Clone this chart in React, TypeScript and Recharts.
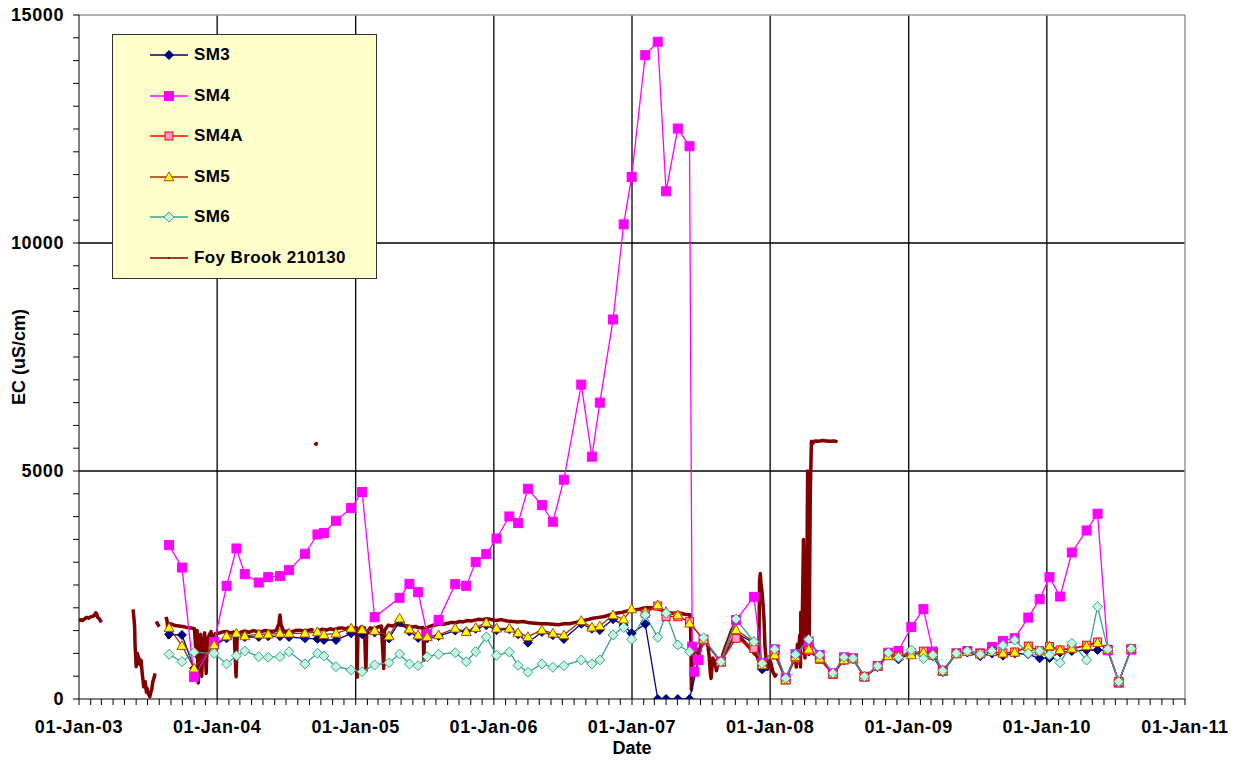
import React from 'react';
import { LineChart, Line, XAxis, YAxis, ReferenceLine, Legend } from 'recharts';

// sampling dates shared by the monitoring bores
const sampleDates = [
  '2003-08-27', '2003-09-30', '2003-11-01', '2003-12-24',
  '2004-01-26', '2004-02-21', '2004-03-14', '2004-04-20', '2004-05-15', '2004-06-15', '2004-07-09', '2004-08-20', '2004-09-22', '2004-10-09', '2004-11-10', '2004-12-20',
  '2005-01-18', '2005-02-20', '2005-03-30', '2005-04-27', '2005-05-23', '2005-06-15', '2005-07-09', '2005-08-08', '2005-09-21', '2005-10-20', '2005-11-14', '2005-12-12',
  '2006-01-08', '2006-02-11', '2006-03-06', '2006-04-01', '2006-05-08', '2006-06-06', '2006-07-05', '2006-08-20', '2006-09-17', '2006-10-08', '2006-11-12', '2006-12-10', '2006-12-31',
  '2007-02-05', '2007-03-10', '2007-04-01', '2007-05-02', '2007-06-02', '2007-06-09', '2007-06-15', '2007-06-26', '2007-07-09', '2007-08-24', '2007-10-03', '2007-11-19', '2007-12-11',
  '2008-01-13', '2008-02-11', '2008-03-08', '2008-04-12', '2008-05-11', '2008-06-15', '2008-07-14', '2008-08-07', '2008-09-06', '2008-10-11', '2008-11-08', '2008-12-05',
  '2009-01-08', '2009-02-09', '2009-03-06', '2009-04-01', '2009-05-07', '2009-06-05', '2009-07-09', '2009-08-09', '2009-09-07', '2009-10-08', '2009-11-13', '2009-12-13',
  '2010-01-08', '2010-02-05', '2010-03-08', '2010-04-16', '2010-05-15', '2010-06-11', '2010-07-10', '2010-08-12',
];

const sm3Values = [
  1419, 1404, 673, 1180,
  1330, 1400, 1360, 1360, 1375, 1375, 1360, 1330, 1320, 1294, 1294, 1441,
  1420, 1460, 1330, 1700, 1480, 1340, 1330, 1380, 1500, 1480, 1540, 1620,
  1510, 1530, 1420, 1235, 1470, 1400, 1316, 1650, 1540, 1513, 1750, 1620, 1441,
  1645, 0, 0, 0, 0, null, null, null, 1290, 800, 1450, 1230, 650,
  1040, 430, 920, 1040, 880, 540, 850, 870, 470, 700, 960, 870,
  1000, 1000, 940, 590, 990, 1020, 940, 1000, 950, 1000, 980, 892,
  900, 1020, 1050, 1075, 1075, 1060, 380, 1104,
];

const sm4Values = [
  3375, 2883, 483, 1250,
  2481, 3301, 2738, 2554, 2672, 2694, 2826, 3184, 3608, 3639, 3909, 4187,
  4540, 1794, null, 2218, 2525, 2343, 1420, 1735, 2518, 2481, 3002, 3177,
  3520, 4003, 3858, 4611, 4253, 3887, 4809, 6895, 5314, 6500, 8323, 10409, 11448,
  14120, 14413, 11134, 12510, 12122, 1147, 599, 855, 1300, 820, 1732, 2240, 790,
  1090, 454, 980, 1260, 965, 563, 914, 892, 490, 724, 1015, 1054,
  1581, 1970, 1039, 621, 1002, 1053, 1000, 1142, 1274, 1333, 1785, 2189,
  2672, 2247, 3213, 3696, 4063, 1069, 358, 1083,
];

const sm4aValues = [
  null, null, null, null,
  null, null, null, null, null, null, null, null, null, null, null, null,
  null, null, null, null, null, null, null, null, null, null, null, null,
  null, null, null, null, null, null, null, null, null, null, null, null, null,
  1880, 2039, 1805, 1805, 1695, null, null, null, 1290, 818, 1331, 1112, 770,
  965, 417, 900, 1060, 870, 540, 855, 892, 490, 724, 960, 940,
  1010, 1050, 960, 610, 1000, 1040, 1000, 1040, 1010, 1030, 1160, 1060,
  1150, 1075, 1110, 1180, 1250, 1090, 380, 1104,
];

const sm5Values = [
  1564, 1169, 673, 1184,
  1380, 1441, 1382, 1420, 1420, 1441, 1441, 1441, 1470, 1410, 1441, 1550,
  1520, 1500, 1380, 1770, 1530, 1400, 1366, 1404, 1550, 1476, 1564, 1673,
  1550, 1550, 1454, 1366, 1513, 1441, 1404, 1717, 1572, 1601, 1842, 1748, 1974,
  1915, 2061, 1915, 1842, 1660, null, null, null, 1309, 818, 1513, 1257, 746,
  965, 417, 928, 1090, 892, 563, 855, 892, 490, 724, 943, 943,
  965, 1024, 980, 621, 1000, 1040, 1000, 1040, 1002, 1024, 1147, 1050,
  1162, 1075, 1110, 1162, 1235, 1090, 380, 1104,
];

const sm6Values = [
  980, 818, 1024, 1002,
  768, 950, 1053, 928, 914, 928, 1037, 768, 1002, 943, 708, 636,
  599, 746, 796, 987, 768, 730, 928, 980, 1015, 818, 1037, 1360,
  958, 1030, 739, 585, 768, 695, 730, 855, 768, 855, 1404, 1572, 1309,
  1842, 1353, 1879, 1184, 1037, null, null, null, 1344, 818, 1754, 1257, 778,
  1092, 454, 976, 1305, 965, 563, 914, 892, 490, 724, 1015, 914,
  1075, 884, 965, 621, 1002, 1053, 980, 1053, 1178, 1294, 1002, 1053,
  965, 796, 1221, 855, 2024, 1090, 380, 1104,
];

// continuous logger at Foy Brook 210130 (null = no record)
const foyBrook: [string, number | null][] = [
  ['2003-01-01', 1710], ['2003-01-06', 1740], ['2003-01-11', 1720], ['2003-01-16', 1760], ['2003-01-21', 1790],
  ['2003-01-26', 1770], ['2003-01-31', 1800], ['2003-02-05', 1810], ['2003-02-10', 1830], ['2003-02-14', 1890],
  ['2003-02-17', 1860], ['2003-02-20', 1780], ['2003-02-24', 1760], ['2003-03-01', 1680],
  ['2003-03-15', null],
  ['2003-05-24', 1967], ['2003-05-26', 1780], ['2003-05-28', 1585], ['2003-05-29', 1200], ['2003-05-31', 900],
  ['2003-06-01', 708], ['2003-06-04', 1000], ['2003-06-08', 892], ['2003-06-11', 750], ['2003-06-14', 850],
  ['2003-06-17', 563], ['2003-06-19', 420], ['2003-06-21', 270], ['2003-06-25', 380], ['2003-06-28', 150],
  ['2003-06-30', 234], ['2003-07-03', 120], ['2003-07-07', 50], ['2003-07-10', 150], ['2003-07-12', 197],
  ['2003-07-15', 380], ['2003-07-18', 454], ['2003-07-21', 563],
  ['2003-07-22', null],
  ['2003-07-24', 1700], ['2003-07-28', 1640], ['2003-08-01', 1585],
  ['2003-08-10', null],
  ['2003-08-19', 1800], ['2003-08-22', 1700], ['2003-08-25', 1350], ['2003-08-27', 1650], ['2003-09-03', 1640],
  ['2003-09-12', 1610], ['2003-09-22', 1600], ['2003-10-02', 1590], ['2003-10-12', 1570], ['2003-10-22', 1560],
  ['2003-11-02', 1540], ['2003-11-07', 930], ['2003-11-09', 1500], ['2003-11-12', 350], ['2003-11-14', 1380],
  ['2003-11-18', 1420], ['2003-11-21', 500], ['2003-11-24', 1100], ['2003-11-29', 1450], ['2003-12-03', 560],
  ['2003-12-06', 1300], ['2003-12-11', 1400], ['2003-12-16', 1480], ['2003-12-20', 1300], ['2003-12-27', 1430],
  ['2004-01-05', 1440], ['2004-01-15', 1470], ['2004-01-25', 1480], ['2004-02-05', 1450], ['2004-02-15', 1470],
  ['2004-02-20', 490], ['2004-02-23', 1400], ['2004-03-05', 1470], ['2004-03-15', 1490], ['2004-03-25', 1460],
  ['2004-04-05', 1500], ['2004-04-15', 1480], ['2004-04-25', 1470], ['2004-05-05', 1500], ['2004-05-15', 1490],
  ['2004-05-25', 1480], ['2004-06-05', 1500], ['2004-06-12', 1650], ['2004-06-15', 1840], ['2004-06-18', 1620],
  ['2004-06-25', 1480], ['2004-07-05', 1490], ['2004-07-15', 1470], ['2004-07-25', 1500], ['2004-08-05', 1510],
  ['2004-08-15', 1490], ['2004-08-25', 1500], ['2004-09-05', 1520], ['2004-09-12', 1510],
  ['2004-09-13', null],
  ['2004-09-15', 5560], ['2004-09-19', 5600], ['2004-09-23', 5590],
  ['2004-09-24', null],
  ['2004-09-26', 1500], ['2004-10-05', 1530], ['2004-10-15', 1510], ['2004-10-25', 1540], ['2004-11-05', 1520],
  ['2004-11-15', 1550], ['2004-11-25', 1560], ['2004-12-05', 1540], ['2004-12-15', 1570], ['2004-12-28', 1550],
  ['2005-01-03', 1560], ['2005-01-05', 480], ['2005-01-07', 1480], ['2005-01-15', 1580], ['2005-01-24', 1560],
  ['2005-01-28', 620], ['2005-01-30', 1450], ['2005-02-08', 1560], ['2005-02-18', 1540], ['2005-03-01', 1580],
  ['2005-03-10', 1600], ['2005-03-16', 670], ['2005-03-18', 1500], ['2005-03-28', 1620], ['2005-04-08', 1600],
  ['2005-04-18', 1640], ['2005-04-28', 1620], ['2005-05-08', 1610], ['2005-05-18', 1600], ['2005-05-28', 1580],
  ['2005-06-08', 1590], ['2005-06-18', 1560], ['2005-06-28', 1570], ['2005-06-30', 850], ['2005-07-02', 1500],
  ['2005-07-12', 1580], ['2005-07-22', 1610], ['2005-08-02', 1630], ['2005-08-12', 1650], ['2005-08-22', 1640],
  ['2005-09-02', 1660], ['2005-09-12', 1680], ['2005-09-22', 1670], ['2005-10-02', 1700], ['2005-10-12', 1690],
  ['2005-10-22', 1720], ['2005-11-02', 1710], ['2005-11-12', 1730], ['2005-11-22', 1750], ['2005-12-02', 1740],
  ['2005-12-12', 1760], ['2005-12-22', 1750],
  ['2006-01-05', 1720], ['2006-01-20', 1740], ['2006-02-05', 1710], ['2006-02-20', 1700], ['2006-03-05', 1690],
  ['2006-03-20', 1700], ['2006-04-05', 1670], ['2006-04-20', 1660], ['2006-05-05', 1650], ['2006-05-20', 1650],
  ['2006-06-05', 1640], ['2006-06-20', 1630], ['2006-07-05', 1650], ['2006-07-20', 1650], ['2006-08-05', 1680],
  ['2006-08-20', 1710], ['2006-09-05', 1740], ['2006-09-20', 1770], ['2006-10-05', 1790], ['2006-10-20', 1810],
  ['2006-11-05', 1850], ['2006-11-20', 1880], ['2006-12-05', 1900], ['2006-12-20', 1930],
  ['2007-01-05', 1950], ['2007-01-20', 1970], ['2007-02-05', 2000], ['2007-02-20', 2000], ['2007-03-05', 1990],
  ['2007-03-20', 1950], ['2007-04-05', 1900], ['2007-04-20', 1880], ['2007-05-05', 1890], ['2007-05-20', 1860],
  ['2007-06-03', 1850], ['2007-06-05', 1500], ['2007-06-07', 200], ['2007-06-09', 560], ['2007-06-12', 930],
  ['2007-06-15', 1075], ['2007-06-20', 1100], ['2007-06-25', 980], ['2007-07-01', 1150], ['2007-07-08', 1220],
  ['2007-07-15', 1290], ['2007-07-20', 1200], ['2007-07-24', 930], ['2007-07-27', 560], ['2007-07-29', 450],
  ['2007-08-02', 900], ['2007-08-08', 820], ['2007-08-12', 620], ['2007-08-18', 890], ['2007-08-24', 820],
  ['2007-08-30', 1000], ['2007-09-05', 1147], ['2007-09-12', 1294], ['2007-09-18', 1441], ['2007-09-26', 1586],
  ['2007-10-03', 1500], ['2007-10-12', 1366], ['2007-10-20', 1294], ['2007-10-28', 1220], ['2007-11-05', 1150],
  ['2007-11-12', 1080], ['2007-11-20', 1000], ['2007-11-28', 930], ['2007-12-02', 820], ['2007-12-04', 2600],
  ['2007-12-06', 2750], ['2007-12-08', 2500], ['2007-12-10', 2400], ['2007-12-13', 2100], ['2007-12-16', 1700],
  ['2007-12-18', 1200], ['2007-12-21', 900], ['2007-12-25', 650], ['2008-01-02', 820], ['2008-01-08', 600],
  ['2008-01-14', 500], ['2008-01-18', 560],
  ['2008-02-01', null],
  ['2008-03-06', 980], ['2008-03-10', 700], ['2008-03-13', 1200], ['2008-03-16', 900], ['2008-03-19', 1400],
  ['2008-03-21', 700], ['2008-03-22', 1900], ['2008-03-25', 1200], ['2008-03-29', 3500], ['2008-03-31', 1500],
  ['2008-04-02', 900], ['2008-04-04', 2600], ['2008-04-06', 1300], ['2008-04-09', 5000], ['2008-04-11', 2400],
  ['2008-04-13', 1200], ['2008-04-16', 4500], ['2008-04-19', 5650], ['2008-04-22', 5600], ['2008-04-28', 5660],
  ['2008-05-08', 5650], ['2008-05-18', 5670], ['2008-05-28', 5660], ['2008-06-08', 5650], ['2008-06-18', 5660],
  ['2008-06-27', 5640],
];

const yTickValues = [
  0, 500, 1000, 1500, 2000, 2500, 3000, 3500, 4000, 4500, 5000, 5500, 6000, 6500, 7000, 7500,
  8000, 8500, 9000, 9500, 10000, 10500, 11000, 11500, 12000, 12500, 13000, 13500, 14000, 14500, 15000,
];
const yGridValues = [5000, 10000];
const yearStart = 2003;
const yearEnd = 2011;

const FONT = '"Liberation Sans", Arial, Helvetica, sans-serif';

const X_START = Date.UTC(yearStart, 0, 1);
const X_END = Date.UTC(yearEnd, 0, 1);

const monthTicks: number[] = [];
for (let y = yearStart; y < yearEnd; y++) {
  for (let m = 0; m < 12; m++) monthTicks.push(Date.UTC(y, m, 1));
}
monthTicks.push(X_END);
const yearLines = monthTicks.filter((t) => new Date(t).getUTCMonth() === 0 && t > X_START && t < X_END);

const formatDate = (t: number) => {
  const d = new Date(t);
  if (d.getUTCMonth() !== 0) return '';
  return `01-Jan-${String(d.getUTCFullYear()).slice(2)}`;
};

const toPoints = (values: (number | null)[]) =>
  sampleDates
    .map((d, i) => ({ t: Date.parse(d), v: values[i] }))
    .filter((p) => p.v !== null && p.v !== undefined);

const foyData = foyBrook.map(([d, v]) => ({ t: Date.parse(d), v }));

type Shape = 'diamond' | 'square' | 'triangle' | 'dot';

interface SeriesDef {
  key: string;
  name: string;
  data: { t: number; v: number | null }[];
  color: string;
  shape: Shape;
  fill: string;
  stroke: string;
  r: number;
}

const seriesList: SeriesDef[] = [
  { key: 'sm3', name: 'SM3', data: toPoints(sm3Values), color: '#000080', shape: 'diamond', fill: '#000080', stroke: '#000080', r: 4.5 },
  { key: 'sm4', name: 'SM4', data: toPoints(sm4Values), color: '#FF00FF', shape: 'square', fill: '#FF00FF', stroke: '#FF00FF', r: 4.5 },
  { key: 'sm4a', name: 'SM4A', data: toPoints(sm4aValues), color: '#FF0000', shape: 'square', fill: '#FF99CC', stroke: '#FF0000', r: 4 },
  { key: 'sm5', name: 'SM5', data: toPoints(sm5Values), color: '#993300', shape: 'triangle', fill: '#FFFF00', stroke: '#B04A00', r: 5 },
  { key: 'sm6', name: 'SM6', data: toPoints(sm6Values), color: '#33A399', shape: 'diamond', fill: '#C8F5DC', stroke: '#33A399', r: 5 },
];

const foySeries = { key: 'foy', name: 'Foy Brook 210130', color: '#800000' };

function Marker({ shape, cx, cy, r, fill, stroke }: { shape: Shape; cx: number; cy: number; r: number; fill: string; stroke: string }) {
  if (shape === 'square') {
    return <rect x={cx - r} y={cy - r} width={r * 2} height={r * 2} fill={fill} stroke={stroke} strokeWidth={1} />;
  }
  if (shape === 'diamond') {
    return <path d={`M${cx},${cy - r}L${cx + r},${cy}L${cx},${cy + r}L${cx - r},${cy}Z`} fill={fill} stroke={stroke} strokeWidth={1} />;
  }
  if (shape === 'triangle') {
    return <path d={`M${cx},${cy - r}L${cx + r},${cy + r * 0.75}L${cx - r},${cy + r * 0.75}Z`} fill={fill} stroke={stroke} strokeWidth={1} />;
  }
  return <circle cx={cx} cy={cy} r={r} fill={fill} />;
}

const makeDot = (s: SeriesDef) => (props: any) => {
  const { cx, cy, index } = props;
  if (cx == null || cy == null) return <g key={`${s.key}-${index}`} />;
  return (
    <g key={`${s.key}-${index}`}>
      <Marker shape={s.shape} cx={cx} cy={cy} r={s.r} fill={s.fill} stroke={s.stroke} />
    </g>
  );
};

const LegendBox = () => {
  const rows = [
    ...seriesList.map((s) => ({ name: s.name, color: s.color, shape: s.shape, fill: s.fill, stroke: s.stroke, r: s.r })),
    { name: foySeries.name, color: foySeries.color, shape: 'dot' as Shape, fill: foySeries.color, stroke: foySeries.color, r: 1 },
  ];
  return (
    <div
      style={{
        width: 265,
        height: 245,
        boxSizing: 'border-box',
        background: '#FFFFCC',
        border: '1.5px solid #333',
        paddingTop: 0,
        fontFamily: FONT,
      }}
    >
      {rows.map((row) => (
        <div key={row.name} style={{ display: 'flex', alignItems: 'center', height: 40.5, paddingLeft: 37 }}>
          <svg width={38} height={14} style={{ overflow: 'visible' }}>
            <line x1={0} y1={7} x2={38} y2={7} stroke={row.color} strokeWidth={1.5} />
            <Marker shape={row.shape} cx={19} cy={7} r={row.r} fill={row.fill} stroke={row.stroke} />
          </svg>
          <span style={{ marginLeft: 6, fontSize: 17, fontWeight: 700, letterSpacing: 0.4, color: '#000' }}>{row.name}</span>
        </div>
      ))}
    </div>
  );
};

const YTitle = (props: any) => {
  const { viewBox } = props;
  const x = viewBox.x + 19;
  const y = viewBox.y + viewBox.height / 2;
  return (
    <text
      x={x}
      y={y}
      transform={`rotate(-90, ${x}, ${y})`}
      textAnchor="middle"
      dominantBaseline="central"
      fontFamily={FONT}
      fontSize={18}
      fontWeight={700}
      fill="#000"
    >
      EC (uS/cm)
    </text>
  );
};

const tickStyle = { fill: '#000', fontSize: 18, fontWeight: 700, fontFamily: FONT, letterSpacing: 0.6 };

export default function App() {
  return (
    <div style={{ position: 'absolute', left: 0, top: 0, background: '#fff' }}>
      <LineChart
        width={1239}
        height={760}
        margin={{ top: 15, right: 54, left: 0, bottom: 0 }}
        style={{ fontFamily: FONT }}
      >
        <XAxis
          type="number"
          dataKey="t"
          domain={[X_START, X_END]}
          allowDataOverflow
          ticks={monthTicks}
          interval={0}
          tickFormatter={formatDate}
          tickSize={6}
          tickMargin={15}
          height={61}
          stroke="#000"
          tick={tickStyle}
          label={{ value: 'Date', position: 'insideBottom', offset: 6, fill: '#000', fontSize: 18, fontWeight: 700, fontFamily: FONT }}
        />
        <YAxis
          type="number"
          domain={[0, 15000]}
          allowDataOverflow
          ticks={yTickValues}
          interval={0}
          tickFormatter={(v: number) => (v % 5000 === 0 ? String(v) : '')}
          tickSize={6}
          tickMargin={9}
          width={79}
          stroke="#000"
          tick={tickStyle}
          label={{ content: YTitle }}
        />
        {yearLines.map((t) => (
          <ReferenceLine key={t} x={t} stroke="#000" strokeWidth={1.3} />
        ))}
        {yGridValues.map((v) => (
          <ReferenceLine key={v} y={v} stroke="#000" strokeWidth={1.3} />
        ))}
        <ReferenceLine y={15000} stroke="#999" strokeWidth={1.5} />
        <ReferenceLine x={X_END} stroke="#999" strokeWidth={1.5} />
        <Legend
          layout="horizontal"
          verticalAlign="middle"
          align="center"
          wrapperStyle={{ left: 112, top: 34, width: 265, height: 245 }}
          content={() => <LegendBox />}
        />
        <Line
          data={foyData}
          dataKey="v"
          name={foySeries.name}
          type="linear"
          stroke={foySeries.color}
          strokeWidth={3.5}
          strokeLinejoin="round"
          dot={false}
          activeDot={false}
          isAnimationActive={false}
        />
        {seriesList.map((s) => (
          <Line
            key={s.key}
            data={s.data}
            dataKey="v"
            name={s.name}
            type="linear"
            stroke={s.color}
            strokeWidth={1.3}
            dot={makeDot(s)}
            activeDot={false}
            isAnimationActive={false}
          />
        ))}
      </LineChart>
    </div>
  );
}
